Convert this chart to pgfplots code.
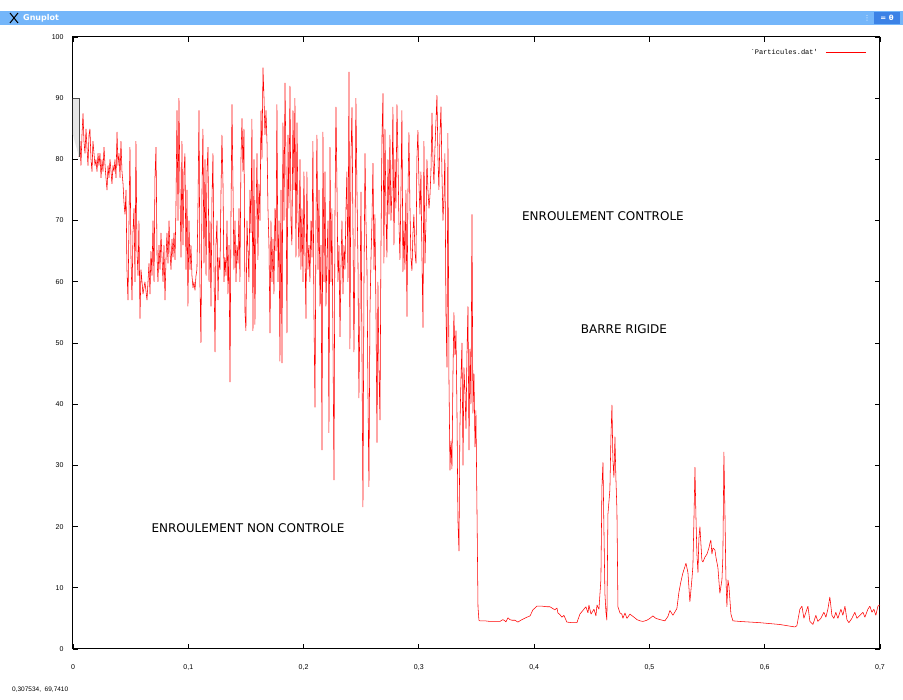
\documentclass[border=0pt]{standalone}
\usepackage{pgfplots}
\pgfplotsset{compat=1.18}
\usepackage{fontspec}
\setmainfont{DejaVu Sans}
\newfontfamily\tickfont{Liberation Sans}
\newfontfamily\monofont{Liberation Mono}
\definecolor{barblue}{RGB}{116,182,250}
\definecolor{bardark}{RGB}{60,130,230}
\pgfplotstableread{
x y
0.0052 80.4
0.0061 83
0.0069 79
0.0078 84
0.0087 87.5
0.0095 83
0.0104 81
0.0113 85
0.0121 82
0.0130 79
0.0139 84
0.0147 85
0.0156 80
0.0165 78
0.0173 83
0.0182 81
0.0191 79
0.0199 80
0.0208 78
0.0217 81
0.0225 79
0.0234 81
0.0243 77
0.0252 80
0.0260 78
0.0269 82
0.0278 79
0.0286 77
0.0295 75
0.0304 79
0.0312 77
0.0321 80
0.0330 78
0.0338 76
0.0347 79
0.0356 78
0.0364 80
0.0373 77
0.0382 84.5
0.0390 79
0.0399 81
0.0408 77
0.0416 83
0.0425 78
0.0434 76
0.0442 73
0.0451 71
0.0460 75
0.0468 62
0.0477 57
0.0486 70
0.0494 82
0.0503 64
0.0512 57
0.0520 68
0.0529 72
0.0538 60
0.0546 83
0.0555 65
0.0564 61
0.0572 70
0.0581 54
0.0590 62
0.0607 58
0.0624 60
0.0642 57
0.0659 63
0.0668 58
0.0676 65
0.0685 61
0.0694 70
0.0703 60
0.0711 77
0.0720 82
0.0729 64
0.0737 60
0.0746 66
0.0755 62
0.0763 68
0.0772 64
0.0781 60
0.0789 66
0.0798 57
0.0807 64
0.0815 68
0.0824 63
0.0833 70
0.0841 65
0.0850 62
0.0859 67
0.0867 64
0.0876 68
0.0885 63.6
0.0893 72
0.0902 88
0.0911 70
0.0919 90
0.0928 75
0.0937 64
0.0945 83
0.0954 66
0.0963 78
0.0971 81
0.0980 62
0.0989 75
0.0997 56
0.1006 70
0.1015 62
0.1023 66
0.1032 61
0.1041 59
0.1049 60
0.1058 58.6
0.1067 61
0.1075 62
0.1084 72
0.1093 88
0.1101 60
0.1110 50
0.1119 75
0.1127 85
0.1136 63
0.1145 80
0.1154 61
0.1162 78
0.1171 82
0.1180 60
0.1188 70
0.1197 56
0.1206 74
0.1214 81
0.1223 62
0.1232 48.5
0.1240 66
0.1249 70
0.1258 57
0.1266 64
0.1275 62
0.1284 75
0.1292 84
0.1301 76
0.1310 60
0.1318 64
0.1327 61
0.1336 70
0.1344 58
0.1353 66
0.1362 43.6
0.1370 70
0.1379 89
0.1388 75
0.1396 62
0.1405 70
0.1414 60
0.1422 66
0.1431 63
0.1440 72
0.1448 60
0.1457 80
0.1466 86.7
0.1474 78
0.1483 85
0.1492 55
0.1500 52
0.1509 70
0.1518 65
0.1526 60
0.1535 75
0.1544 68
0.1552 86.6
0.1561 52
0.1570 80
0.1578 53
0.1587 70
0.1596 81
0.1604 63.6
0.1613 76
0.1622 70
0.1631 88
0.1639 80
0.1648 95
0.1657 90
0.1665 84
0.1674 88
0.1683 82.6
0.1691 72
0.1700 66
0.1709 51.6
0.1717 70
0.1726 60
0.1735 67
0.1743 58
0.1752 72
0.1761 65
0.1769 89
0.1778 60
0.1787 70
0.1795 47
0.1804 75
0.1813 46.7
0.1821 86
0.1830 70
0.1839 92.5
0.1847 80
0.1856 51.6
0.1865 84
0.1873 72
0.1882 92
0.1891 70
0.1899 66
0.1908 88
0.1917 75
0.1925 90
0.1934 64
0.1943 86
0.1951 72
0.1960 64
0.1969 80
0.1977 62
0.1986 72
0.1995 60
0.2003 78
0.2012 65
0.2021 54
0.2029 78
0.2038 62
0.2047 66
0.2055 60
0.2064 70
0.2073 64
0.2081 83
0.2090 55
0.2099 39.5
0.2108 70
0.2116 84
0.2125 62
0.2134 75
0.2142 56
0.2151 66
0.2160 32.5
0.2168 84.5
0.2177 60
0.2186 78
0.2194 56
0.2203 64
0.2212 70
0.2220 35.3
0.2229 82
0.2238 60
0.2246 72
0.2255 50
0.2264 27.6
0.2272 70
0.2281 88.6
0.2290 75
0.2298 60
0.2307 66
0.2316 51
0.2324 62
0.2333 70
0.2342 58
0.2350 66
0.2359 62
0.2368 72
0.2376 78
0.2385 60
0.2394 94.3
0.2402 49
0.2411 80
0.2420 88.5
0.2428 70
0.2437 48.5
0.2446 66
0.2454 90
0.2463 75
0.2472 63
0.2480 41
0.2489 55
0.2498 74.7
0.2506 50
0.2515 23.2
0.2524 60
0.2533 81
0.2541 70
0.2550 62
0.2559 41
0.2567 26.5
0.2576 55
0.2585 64
0.2593 69.6
0.2602 79.4
0.2611 62
0.2619 71
0.2628 55
0.2637 33.7
0.2645 60
0.2654 45.6
0.2663 37.4
0.2671 65
0.2680 83.6
0.2689 90.8
0.2697 63
0.2706 85
0.2715 71
0.2723 64
0.2732 80
0.2741 71
0.2749 84
0.2758 70
0.2767 75
0.2775 88.6
0.2784 66
0.2793 80
0.2801 72
0.2810 89
0.2819 80
0.2827 70
0.2836 63.6
0.2845 75
0.2853 88
0.2862 61.6
0.2871 70
0.2879 62
0.2888 75
0.2897 54.3
0.2905 74
0.2914 84.4
0.2923 72
0.2931 64
0.2940 61.8
0.2949 68
0.2957 71
0.2966 65
0.2975 63
0.2983 80
0.2992 84.8
0.3001 76
0.3010 71
0.3018 78
0.3027 64
0.3036 52.5
0.3044 83
0.3053 63
0.3062 70
0.3070 80
0.3079 75
0.3088 72
0.3096 74
0.3105 78
0.3114 87.6
0.3122 80
0.3131 76
0.3140 82
0.3148 86
0.3157 90.5
0.3166 80
0.3174 75
0.3183 84
0.3192 88.6
0.3200 78
0.3209 70
0.3218 74
0.3226 81
0.3235 55
0.3244 46
0.3252 84.3
0.3261 44.4
0.3270 29.2
0.3278 34
0.3287 29.4
0.3296 45
0.3304 55
0.3313 48
0.3322 52
0.3330 40
0.3339 21
0.3348 16
0.3356 36
0.3365 44
0.3374 50
0.3383 30
0.3391 46
0.3400 42
0.3409 36
0.3417 48
0.3426 56
0.3435 32.5
0.3443 49
0.3452 40
0.3461 71
0.3469 38.5
0.3478 45
0.3487 33
0.3495 39
0.3504 23
0.3513 6.9
0.3521 4.7
0.3530 4.6
0.3573 4.6
0.3617 4.5
0.3660 4.5
0.3703 4.5
0.3729 4.8
0.3747 4.6
0.3755 4.4
0.3773 5.1
0.3790 4.8
0.3807 4.7
0.3833 4.7
0.3859 4.4
0.3894 4.8
0.3938 5.2
0.3964 5.4
0.3990 6.4
0.4024 7.0
0.4068 7.0
0.4111 6.9
0.4137 6.9
0.4163 6.6
0.4180 6.4
0.4198 6.7
0.4206 5.9
0.4224 5.6
0.4241 5.2
0.4258 5.5
0.4284 4.4
0.4328 4.3
0.4371 4.3
0.4397 5.7
0.4423 6.3
0.4449 6.9
0.4467 5.9
0.4475 7.2
0.4493 5.7
0.4519 6.5
0.4536 5.4
0.4545 7.2
0.4562 6.5
0.4579 11.3
0.4588 26.5
0.4597 30.5
0.4605 20
0.4614 9
0.4623 6
0.4631 4.7
0.4640 22
0.4657 26
0.4666 34.5
0.4675 39.9
0.4683 31
0.4692 28
0.4701 34.7
0.4709 28
0.4718 22.8
0.4727 6.9
0.4744 5.9
0.4761 5.7
0.4770 5.0
0.4788 5.9
0.4805 5.0
0.4831 5.7
0.4866 5.2
0.4892 4.8
0.4918 4.6
0.4944 4.5
0.4978 4.7
0.5004 5.0
0.5030 5.4
0.5056 5.0
0.5091 4.8
0.5134 4.6
0.5160 5.3
0.5178 6.3
0.5204 5.5
0.5238 6.6
0.5256 9.3
0.5273 11
0.5290 12.4
0.5317 14
0.5334 12.5
0.5351 7.7
0.5369 11.5
0.5377 13.5
0.5386 21
0.5395 29.7
0.5403 22
0.5412 15.5
0.5421 12.5
0.5429 18
0.5438 20
0.5455 14.5
0.5464 14.2
0.5481 15
0.5499 15.5
0.5516 16.5
0.5525 17.3
0.5533 17.8
0.5542 15.5
0.5551 16.5
0.5568 16.2
0.5577 15
0.5594 13.3
0.5611 9.1
0.5629 11.3
0.5637 15
0.5646 32.2
0.5655 22.2
0.5663 12
0.5672 6.9
0.5681 11.3
0.5690 10.2
0.5707 5.7
0.5724 4.6
0.5785 4.5
0.5958 4.3
0.6132 4.0
0.6262 3.6
0.6279 3.8
0.6305 6.5
0.6323 7.0
0.6340 5.0
0.6357 6.0
0.6375 7.0
0.6392 4.5
0.6418 4.0
0.6444 5.5
0.6461 4.5
0.6487 5.0
0.6513 6.0
0.6531 5.2
0.6548 6.5
0.6565 8.5
0.6583 5.5
0.6600 5.0
0.6617 6.0
0.6635 5.0
0.6661 6.5
0.6678 5.5
0.6696 7.0
0.6713 4.8
0.6730 4.3
0.6756 5.0
0.6782 6.0
0.6800 5.0
0.6826 5.5
0.6852 6.0
0.6869 5.2
0.6895 6.5
0.6912 7.0
0.6930 6.0
0.6947 6.5
0.6964 5.5
0.6982 7.0
0.6999 7.2
}\particules
\begin{document}
\begin{tikzpicture}
\begin{scope}[x=1pt,y=1pt,shift={(-73pt,-51pt)}]
\fill[white] (0,0) rectangle (903,700);
\path[use as bounding box] (0,0) rectangle (903,700);
% window title bar
\fill[barblue] (0,675) rectangle (903,689);
\draw[black, line width=1pt] (10,677) -- (18,687) (10,687) -- (18,677);
\node[anchor=west, font=\bfseries\fontsize{8}{8}\selectfont, text=white, inner sep=0] at (23,682) {Gnuplot};
\fill[bardark] (874,676) rectangle (900,688);
\node[font=\fontsize{7}{7}\selectfont, text=white, inner sep=0] at (867,682) {⋮};
\node[font=\bfseries\fontsize{7}{7}\selectfont, text=white, inner sep=0] at (887,682) {= θ};
% status text
\node[anchor=west, font=\tickfont\fontsize{6.5}{6.5}\selectfont, inner sep=0] at (12,10) {0,307534,\ \ 69,7410};
\end{scope}
\begin{axis}[
  anchor=south west,
  scale only axis, width=807pt, height=612pt,
  xmin=0, xmax=0.7, ymin=0, ymax=100,
  xtick={0,0.1,0.2,0.3,0.4,0.5,0.6,0.7},
  ytick={0,10,20,30,40,50,60,70,80,90,100},
  scaled x ticks=false,
  /pgf/number format/use comma,
  /pgf/number format/assume math mode=true,
  tick align=inside,
  major tick length=5pt,
  tick style={black, line width=0.8pt},
  axis line style={black, line width=1pt},
  every tick label/.append style={font=\tickfont\fontsize{7}{7}\selectfont},
  xticklabel style={yshift=-12pt},
  yticklabel style={xshift=-6pt},
  clip=false,
]
\addplot[red, line width=0.55pt, mark=none, line join=bevel] table {\particules};
\addplot[fill=gray!20, draw=none, forget plot] coordinates {(0,90) (0.0052,90) (0.0052,80.4) (0,84)} -- cycle;
\addplot[black!70, line width=0.8pt, forget plot] coordinates {(0,90) (0.0052,90) (0.0052,80.4)};
% key
\node[anchor=east, font=\monofont\fontsize{7}{7}\selectfont, inner sep=0] at (rel axis cs:0.9232,0.9755) {`Particules.dat'};
\draw[red, line width=0.6pt] (rel axis cs:0.933,0.9755) -- (rel axis cs:0.9827,0.9755);
\node[font=\fontsize{12}{12}\selectfont] at (axis cs:0.4597,70.75) {ENROULEMENT CONTROLE};
\node[font=\fontsize{12}{12}\selectfont] at (axis cs:0.4779,52.3) {BARRE RIGIDE};
\node[font=\fontsize{12}{12}\selectfont] at (axis cs:0.1518,19.8) {ENROULEMENT NON CONTROLE};
\end{axis}
\end{tikzpicture}
\end{document}
